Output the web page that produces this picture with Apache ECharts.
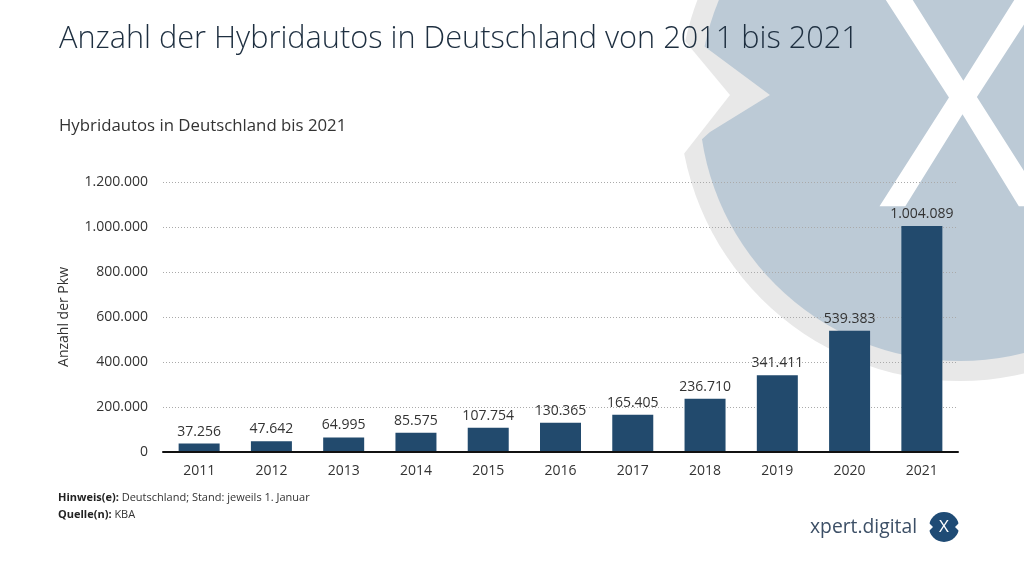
<!DOCTYPE html>
<html>
<head>
<meta charset="utf-8">
<script src="https://cdn.jsdelivr.net/npm/echarts@6/dist/echarts.min.js"></script>
<style>
html,body{margin:0;padding:0;background:#fff;}
#chart{width:1024px;height:577px;}
</style>
</head>
<body>
<div id="chart"></div>
<script>
const categories = ['2011','2012','2013','2014','2015','2016','2017','2018','2019','2020','2021'];
const values = [37256, 47642, 64995, 85575, 107754, 130365, 165405, 236710, 341411, 539383, 1004089];
const yTicks = [0, 200000, 400000, 600000, 800000, 1000000, 1200000];

const titleText = 'Anzahl der Hybridautos in Deutschland von 2011 bis 2021';
const subtitleText = 'Hybridautos in Deutschland bis 2021';
const yAxisName = 'Anzahl der Pkw';
const noteText = 'Deutschland; Stand: jeweils 1. Januar';
const sourceText = 'KBA';

function fmt(v){ return String(v).replace(/\B(?=(\d{3})+(?!\d))/g, '.'); }

const chart = echarts.init(document.getElementById('chart'), null, {renderer:'canvas'});
const FONT = '"Open Sans", "Noto Sans", sans-serif';

const option = {
  backgroundColor: '#ffffff',
  animation: false,
  textStyle: { fontFamily: FONT },
  title: [
    { text: titleText, left: 54, top: 19,
      textStyle: { fontSize: 30.7, fontWeight: 300, color: '#1e2f40', fontFamily: FONT } },
    { text: subtitleText, left: 54, top: 113,
      textStyle: { fontSize: 16.8, fontWeight: 'normal', color: '#333333', fontFamily: FONT } }
  ],
  graphic: [
    { type: 'circle', z: -10, silent: true, shape: { cx: 960, cy: 100, r: 281 }, style: { fill: '#e8e8e8' } },
    { type: 'circle', z: -9, silent: true, shape: { cx: 960, cy: 100, r: 261 }, style: { fill: '#bccad6' } },
    { type: 'polygon', z: -8, silent: true, shape: { points: [[770,95],[712,52],[690,36],[690,150],[710,132]] }, style: { fill: '#e8e8e8' } },
    { type: 'polygon', z: -7, silent: true, shape: { points: [[730,95],[640,-13],[560,-13],[560,210],[640,210]] }, style: { fill: '#ffffff' } },
    { type: 'text', z: -6, silent: true, x: 963, y: 123,
      style: { text: 'X', fill: '#ffffff', fontSize: 292, fontFamily: FONT, fontWeight: 'normal', align: 'center', verticalAlign: 'middle' } },
    { type: 'text', left: 58, top: 492,
      style: { text: '{b|Hinweis(e):} ' + noteText, fill: '#333333', fontSize: 11, fontFamily: FONT,
        rich: { b: { fontWeight: 'bold', fontSize: 11, fill: '#222222', fontFamily: FONT } } } },
    { type: 'text', left: 58, top: 509,
      style: { text: '{b|Quelle(n):} ' + sourceText, fill: '#333333', fontSize: 11, fontFamily: FONT,
        rich: { b: { fontWeight: 'bold', fontSize: 11, fill: '#222222', fontFamily: FONT } } } },
    { type: 'text', x: 917, y: 528,
      style: { text: 'xpert.digital', fill: '#3c4f66', fontSize: 19.3, fontFamily: FONT, align: 'right', verticalAlign: 'middle' } },
    { type: 'circle', shape: { cx: 944, cy: 527, r: 15 }, style: { fill: '#1f4b75' } },
    { type: 'polygon', shape: { points: [[928,522],[933,527],[928,532]] }, style: { fill: '#ffffff' } },
    { type: 'polygon', shape: { points: [[960,522],[955,527],[960,532]] }, style: { fill: '#ffffff' } },
    { type: 'text', x: 944, y: 527,
      style: { text: 'X', fill: '#ffffff', fontSize: 17, fontFamily: FONT, align: 'center', verticalAlign: 'middle' } }
  ],
  grid: { left: 163, right: 66, top: 182, bottom: 125, containLabel: false },
  xAxis: {
    type: 'category',
    data: categories,
    axisLine: { show: true, lineStyle: { color: '#111111', width: 2 } },
    axisTick: { show: false },
    axisLabel: { color: '#333333', fontSize: 14, margin: 12, fontFamily: FONT },
    z: 5
  },
  yAxis: {
    type: 'value',
    min: 0, max: 1200000, interval: 200000,
    name: yAxisName,
    nameLocation: 'middle',
    nameRotate: 90,
    nameGap: 92,
    nameTextStyle: { fontSize: 14, color: '#333333', fontFamily: FONT },
    axisLine: { show: false },
    axisTick: { show: false },
    axisLabel: { color: '#333333', fontSize: 14, margin: 15, fontFamily: FONT,
      formatter: function(v){ return yTicks.indexOf(v) >= 0 ? fmt(v) : ''; } },
    splitLine: { show: true, lineStyle: { color: '#aaaaaa', type: [1, 2], width: 1 } }
  },
  series: [{
    type: 'bar',
    data: values,
    barWidth: 41,
    itemStyle: { color: '#224a6d' },
    label: { show: true, position: 'top', distance: 5, color: '#333333', fontSize: 14, fontFamily: FONT,
      formatter: function(p){ return fmt(p.value); } }
  }]
};
chart.setOption(option);
</script>
</body>
</html>
